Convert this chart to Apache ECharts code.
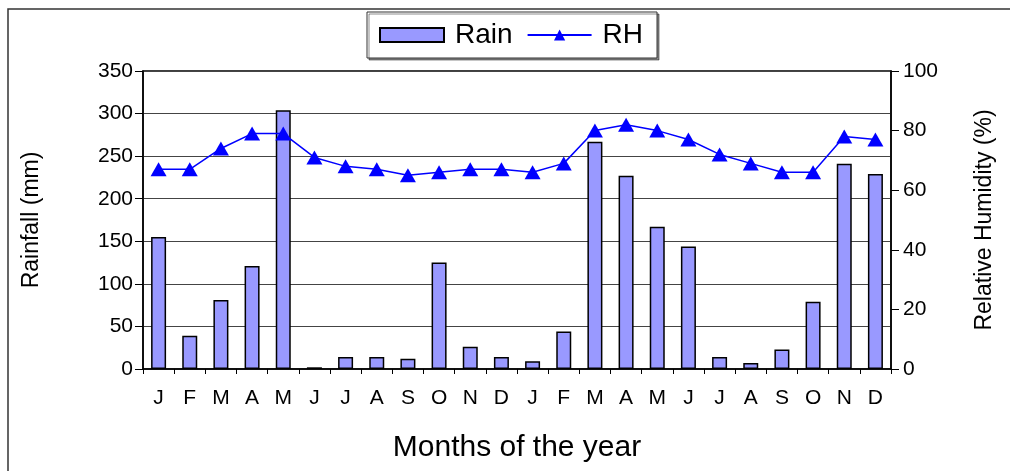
<!DOCTYPE html>
<html>
<head>
<meta charset="utf-8">
<script src="https://cdn.jsdelivr.net/npm/echarts@6/dist/echarts.min.js"></script>
<style>
  html, body { margin: 0; padding: 0; background: #fff; }
  #chart { width: 1010px; height: 471px; }
</style>
</head>
<body>
<div id="chart"></div>
<script>
  // months over two years
  var months = ['J', 'F', 'M', 'A', 'M', 'J', 'J', 'A', 'S', 'O', 'N', 'D',
                'J', 'F', 'M', 'A', 'M', 'J', 'J', 'A', 'S', 'O', 'N', 'D'];
  // rainfall (mm)
  var rain = [155, 39, 81, 121, 304, 2, 14, 14, 12, 125, 26, 14,
              9, 44, 267, 227, 167, 144, 14, 7, 23, 79, 241, 229];
  // relative humidity (%)
  var rh = [67, 67, 74, 79, 79, 71, 68, 67, 65, 66, 67, 67,
            66, 69, 80, 82, 80, 77, 72, 69, 66, 66, 78, 77];

  var font = '"Liberation Sans", Arial, sans-serif';
  var myChart = echarts.init(document.getElementById('chart'));

  myChart.setOption({
    animation: false,
    textStyle: { fontFamily: font, color: '#000' },
    graphic: [{
      type: 'rect',
      shape: { x: 8, y: 9, width: 1020, height: 480 },
      style: { fill: 'none', stroke: '#333', lineWidth: 1.5 },
      z: -1
    }],
    legend: {
      left: 367,
      top: 12,
      itemWidth: 64,
      itemHeight: 14,
      itemGap: 14,
      padding: [9, 14, 9, 12],
      borderColor: '#333',
      borderWidth: 1,
      backgroundColor: '#fff',
      shadowColor: 'rgba(0,0,0,0.45)',
      shadowOffsetX: 2,
      shadowOffsetY: 2,
      shadowBlur: 0,
      textStyle: { fontFamily: font, fontSize: 28, color: '#000', padding: [0, 0, 0, 6] },
      data: [{ name: 'Rain', icon: 'rect' }, 'RH']
    },
    grid: {
      left: 143,
      right: 119,
      top: 71,
      bottom: 102,
      show: true,
      borderColor: '#000',
      borderWidth: 1.5
    },
    xAxis: {
      type: 'category',
      data: months,
      name: 'Months of the year',
      nameLocation: 'middle',
      nameGap: 64,
      nameTextStyle: { fontFamily: font, fontSize: 30, color: '#000' },
      axisLine: { lineStyle: { color: '#000', width: 1.5 } },
      axisTick: { show: true, interval: 0, length: 5, lineStyle: { color: '#000' } },
      axisLabel: { interval: 0, fontSize: 21, color: '#000', margin: 19 }
    },
    yAxis: [{
      type: 'value',
      min: 0,
      max: 350,
      interval: 50,
      name: 'Rainfall (mm)',
      nameLocation: 'middle',
      nameGap: 100,
      nameRotate: 90,
      nameTextStyle: { fontFamily: font, fontSize: 23, color: '#000' },
      axisLine: { show: true, lineStyle: { color: '#000', width: 1.5 } },
      axisTick: { show: true, length: 8, lineStyle: { color: '#000' } },
      axisLabel: { fontSize: 21, color: '#000', margin: 10 },
      splitLine: { show: true, lineStyle: { color: '#444', width: 1 } }
    }, {
      type: 'value',
      min: 0,
      max: 100,
      interval: 20,
      position: 'right',
      name: 'Relative Humidity (%)',
      nameLocation: 'middle',
      nameGap: 82,
      nameRotate: 90,
      nameTextStyle: { fontFamily: font, fontSize: 23, color: '#000' },
      axisLine: { show: true, lineStyle: { color: '#000', width: 1.5 } },
      axisTick: { show: true, length: 8, lineStyle: { color: '#000' } },
      axisLabel: { fontSize: 21, color: '#000', margin: 12 },
      splitLine: { show: false }
    }],
    series: [{
      name: 'Rain',
      type: 'bar',
      yAxisIndex: 0,
      barWidth: 15,
      data: rain,
      itemStyle: { color: '#9999ff', borderColor: '#000', borderWidth: 1.5 }
    }, {
      name: 'RH',
      type: 'line',
      yAxisIndex: 1,
      data: rh,
      symbol: 'triangle',
      symbolSize: [16, 14],
      lineStyle: { color: '#0000ff', width: 1.5 },
      itemStyle: { color: '#0000ff' },
      z: 3
    }]
  });
</script>
</body>
</html>
